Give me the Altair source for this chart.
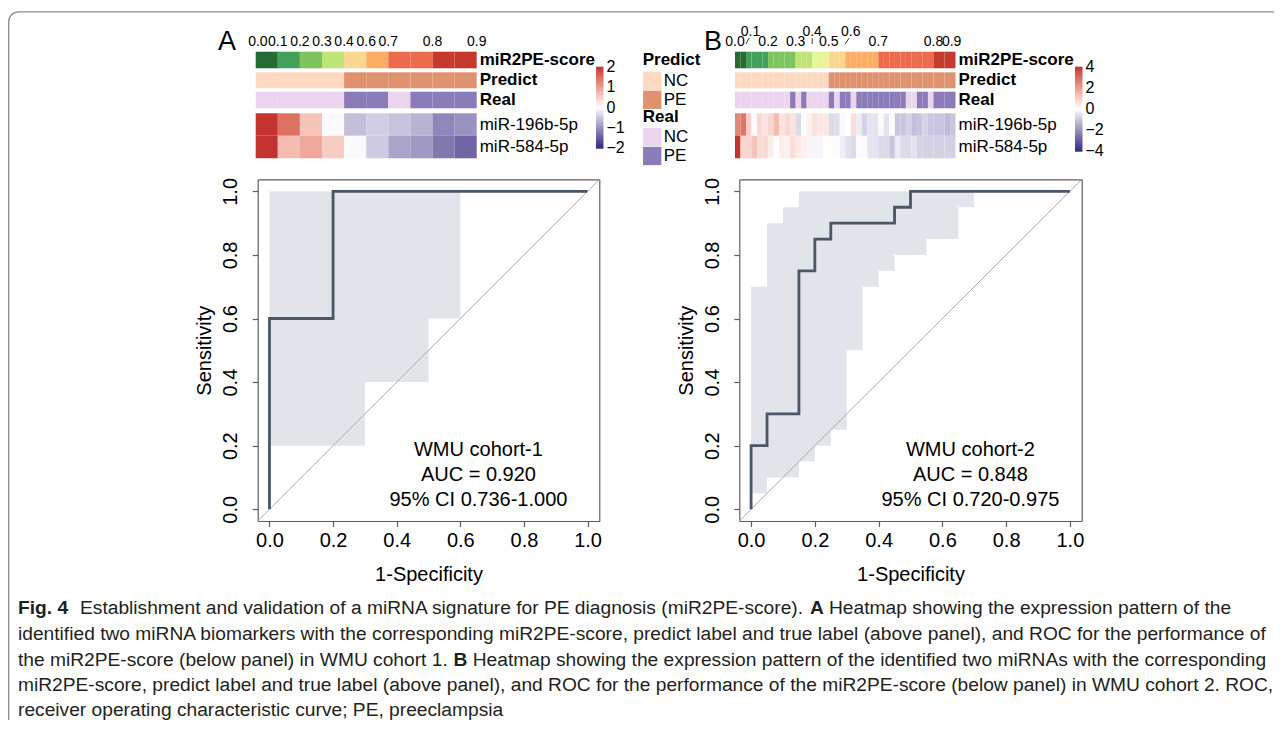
import altair as alt
import pandas as pd

FONT = "Liberation Sans, Arial, Helvetica, sans-serif"
CAP_FONT = "Liberation Sans, Arial, Helvetica, sans-serif"

W, H = 1266, 712

# ---------------- data ----------------
score_palette = ["#276b34", "#41a05a", "#7dc45e", "#bfe474", "#e6f59a",
                 "#fad690", "#fdae62", "#ee6a4c", "#c63a2e"]
predict_colors = ["#fdd9bf", "#e0916e"]
real_colors = ["#ecd4ee", "#8a7cb8"]
expr_colors = ["#2b2c7e", "#ffffff", "#c4332e"]
genes = ["miR-196b-5p", "miR-584-5p"]

# Panel A (WMU cohort-1)
A_bin = [0, 1, 2, 3, 5, 6, 7, 7, 8, 8]
A_predict = ["NC", "NC", "NC", "NC", "PE", "PE", "PE", "PE", "PE", "PE"]
A_real = ["NC", "NC", "NC", "NC", "PE", "PE", "NC", "PE", "PE", "PE"]
A_mir196b = [2.0, 1.45, 0.62, -0.05, -0.56, -0.43, -0.52, -0.67, -1.07, -0.96]
A_mir584 = [2.0, 0.70, 0.90, 0.54, -0.05, -0.45, -0.81, -0.90, -1.21, -1.40]
A_tick_at = [0, 1, 2, 3, 4, 5, 6, 8, 10]
A_tick_txt = ["0.0", "0.1", "0.2", "0.3", "0.4", "0.6", "0.7", "0.8", "0.9"]
A_tick_raised = [0, 0, 0, 0, 0, 0, 0, 0, 0]
A_tick_nudge = [0.1, 0, 0, 0, 0, 0, 0, 0, 0]
A_bar_labels = [-2, -1, 0, 1, 2]

A_roc_fpr = [0, 0, 0.2, 0.2, 1]
A_roc_tpr = [0, 0.6, 0.6, 1, 1]
A_ci_fpr = [0, 0.3, 0.5, 0.6]
A_ci_lo = [0.2, 0.4, 0.6, 0.6]
A_ci_hi = [1, 1, 1, 1]
A_annot = ["WMU cohort-1", "AUC = 0.920", "95% CI 0.736-1.000"]

# Panel B (WMU cohort-2)
B_bin = [0] * 2 + [1] * 4 + [2] * 5 + [3] * 3 + [4] * 3 + [5] * 3 + [6] * 6 + [7] * 10 + [8] * 4
B_predict = ["NC"] * 17 + ["PE"] * 23
B_real = (["NC"] * 10 + ["PE"] + ["NC"] + ["PE"] + ["NC"] * 4 + ["PE"] + ["NC"] + ["PE"] * 2
          + ["NC"] + ["PE"] * 9 + ["NC"] * 2 + ["PE"] * 2 + ["NC"] + ["PE"] * 4)
B_mir196b = [2.5, 2.8, 1.0, 0.1, 0.8, 0.55, 0.86, 1.4, 0.55, 0.8,
             0.6, -0.66, -0.05, 0.3, 0.63, 0.5, 0.5, -0.66, -0.6, -0.1,
             0.0, 0.67, -0.32, -0.78, -0.47, -0.47, -0.1, -0.47, -0.05, -1.0,
             -1.0, -0.78, -1.15, -1.0, -0.78, -1.0, -1.0, -1.0, -1.2, -1.0]
B_mir584 = [4.0, 0.86, 0.86, 1.23, 0.76, 0.76, 0.37, 0.0, 0.37, 0.3,
            0.72, 0.45, 0.3, -0.17, -0.17, -0.17, 0.05, 0.05, 0.05, -0.3,
            -0.53, -0.66, -0.05, -0.1, -0.47, -0.47, -0.66, -0.66, -1.0, -0.38,
            -0.66, -0.66, -0.47, -0.78, -0.8, -0.8, -0.8, -0.8, -0.8, -0.8]
B_tick_at = [0, 2, 6, 11, 14, 17, 20, 26, 36, 40]
B_tick_txt = ["0.0", "0.1", "0.2", "0.3", "0.4", "0.5", "0.6", "0.7", "0.8", "0.9"]
B_tick_raised = [0, 1, 0, 0, 1, 0, 1, 0, 0, 0]
B_tick_nudge = [0, 0.8, 0, 0, 0, 0, 1.0, 0, 0, -0.7]
B_bar_labels = [-4, -2, 0, 2, 4]

B_roc_fpr = [0, 0, 0.05, 0.05, 0.15, 0.15, 0.2, 0.2, 0.25, 0.25, 0.45, 0.45, 0.5, 0.5, 1]
B_roc_tpr = [0, 0.2, 0.2, 0.3, 0.3, 0.75, 0.75, 0.85, 0.85, 0.9, 0.9, 0.95, 0.95, 1, 1]
B_ci_fpr = [0, 0.05, 0.1, 0.15, 0.2, 0.25, 0.3, 0.35, 0.4, 0.45, 0.55, 0.65, 0.7]
B_ci_lo = [0.05, 0.1, 0.1, 0.15, 0.2, 0.25, 0.5, 0.7, 0.75, 0.8, 0.85, 0.95, 0.95]
B_ci_hi = [0.7, 0.9, 0.95, 1, 1, 1, 1, 1, 1, 1, 1, 1, 1]
B_annot = ["WMU cohort-2", "AUC = 0.848", "95% CI 0.720-0.975"]

roc_ticks = [0.0, 0.2, 0.4, 0.6, 0.8, 1.0]

caption = [
    [("Fig. 4", "bold", 18), ("Establishment and validation of a miRNA signature for PE diagnosis (miR2PE-score).", "normal", 80),
     ("A", "bold", 810), ("Heatmap showing the expression pattern of the", "normal", 829)],
    [("identified two miRNA biomarkers with the corresponding miR2PE-score, predict label and true label (above panel), and ROC for the performance of", "normal", 18)],
    [("the miR2PE-score (below panel) in WMU cohort 1.", "normal", 18), ("B", "bold", 453.5),
     ("Heatmap showing the expression pattern of the identified two miRNAs with the corresponding", "normal", 472.7)],
    [("miR2PE-score, predict label and true label (above panel), and ROC for the performance of the miR2PE-score (below panel) in WMU cohort 2. ROC,", "normal", 18)],
    [("receiver operating characteristic curve; PE, preeclampsia", "normal", 18)],
]
caption_baselines = [614, 640, 665.5, 691, 716]

# ---------------- layout (canvas pixels) ----------------
ROW_Y = {"score": (43.7, 60.3), "predict": (64.3, 80.3), "real": (83.7, 100.3), "expr": (105.3, 150.3)}
LVL_RANGE = [33.5, 23.7]
ROC_Y = [513, 171.3]
ROC_DOM_X = [-0.037, 1.037]
ROC_DOM_Y = [-0.037, 1.038]
AX_COL = "#5f5f5f"


def heat_panel(x_rng, bins, predict, real, m196, m584, t_at, t_txt, t_raised, t_nudge,
               lim, bar_labels, grad_x, grad_len, with_legend):
    n = len(bins)
    xs = alt.Scale(domain=[0, n], range=list(x_rng), nice=False, zero=False)
    idx = list(range(n))
    out = []

    def row(df, names, yr, color, bold):
        ys = alt.Scale(domain=names, range=list(yr), paddingInner=0, paddingOuter=0)
        rect = alt.Chart(df).mark_rect().encode(
            x=alt.X("i:Q", scale=xs, axis=None), x2="j:Q",
            y=alt.Y("row:N", scale=ys, axis=None), color=color)
        lab = alt.Chart(pd.DataFrame({"x": [n] * len(names), "row": names})).mark_text(
            align="left", baseline="middle", dx=3, font=FONT, fontSize=17,
            fontWeight="bold" if bold else "normal", color="black").encode(
            x=alt.X("x:Q", scale=xs, axis=None), y=alt.Y("row:N", scale=ys, axis=None), text="row:N")
        return alt.layer(rect, lab)

    base = pd.DataFrame({"i": idx, "j": [k + 1 for k in idx]})

    d = base.copy(); d["row"] = "miR2PE-score"; d["v"] = bins
    out.append(row(d, ["miR2PE-score"], ROW_Y["score"],
                   alt.Color("v:N", scale=alt.Scale(domain=list(range(len(score_palette))), range=score_palette),
                             legend=None), True))

    def cat_legend(title, ly):
        if not with_legend:
            return None
        return alt.Legend(title=title, orient="none", legendX=634.7, legendY=ly, direction="vertical",
                          symbolType="square", symbolSize=335, symbolStrokeWidth=0, symbolOpacity=1,
                          rowPadding=0, padding=0, titleFont=FONT, titleFontSize=17, titleFontWeight="bold",
                          titleColor="black", titlePadding=2, titleAnchor="start", labelFont=FONT,
                          labelFontSize=17, labelColor="black", labelOffset=2)

    d = base.copy(); d["row"] = "Predict"; d["v"] = predict
    out.append(row(d, ["Predict"], ROW_Y["predict"],
                   alt.Color("v:N", scale=alt.Scale(domain=["NC", "PE"], range=predict_colors),
                             legend=cat_legend("Predict", 44.3)), True))

    d = base.copy(); d["row"] = "Real"; d["v"] = real
    out.append(row(d, ["Real"], ROW_Y["real"],
                   alt.Color("v:N", scale=alt.Scale(domain=["NC", "PE"], range=real_colors),
                             legend=cat_legend("Real", 100.5)), True))

    recs = []
    for g, vals in zip(genes, [m196, m584]):
        for k, v in enumerate(vals):
            recs.append({"i": k, "j": k + 1, "row": g, "v": v})
    # labels at the bar ends are set a hair inside so they stay centred on the ends
    lab_vals = [v * 0.995 for v in bar_labels]
    grad = alt.Legend(orient="none", legendX=grad_x, legendY=58.7, direction="vertical", title=None,
                      gradientLength=grad_len, gradientThickness=7.5, gradientStrokeWidth=0,
                      values=lab_vals, labelExpr="format(round(datum.value), 'd')",
                      labelFont=FONT, labelFontSize=16, labelColor="black",
                      labelOffset=3, labelOverlap=False, padding=0)
    out.append(row(pd.DataFrame(recs), genes, ROW_Y["expr"],
                   alt.Color("v:Q", scale=alt.Scale(domain=[-lim, 0, lim], range=expr_colors,
                                                    interpolate="lab", clamp=True), legend=grad), False))

    tdf = pd.DataFrame({"at": t_at, "txt": t_txt, "lvl": t_raised, "nudge": t_nudge})
    tdf["pos"] = tdf["at"] + tdf["nudge"]
    lv = alt.Scale(domain=[0, 1], range=LVL_RANGE, nice=False, zero=False)
    ttext = alt.Chart(tdf).mark_text(font=FONT, fontSize=14, baseline="middle", color="black").encode(
        x=alt.X("pos:Q", scale=xs, axis=None), y=alt.Y("lvl:Q", scale=lv, axis=None), text="txt:N")
    conn = tdf[tdf["lvl"] == 1].copy()
    if len(conn):
        conn["top"] = conn["at"] + conn["nudge"] * 0.7
        conn["y0"] = -0.25
        conn["y1"] = 0.35
        crule = alt.Chart(conn).mark_rule(color="black", strokeWidth=0.8).encode(
            x=alt.X("at:Q", scale=xs, axis=None), x2="top:Q",
            y=alt.Y("y0:Q", scale=lv, axis=None), y2="y1:Q")
        out.append(alt.layer(ttext, crule))
    else:
        out.append(ttext)
    return out


def roc_panel(x_rng, fpr, tpr, ci_x, ci_lo, ci_hi, annot, annot_x):
    xs = alt.Scale(domain=ROC_DOM_X, range=list(x_rng), nice=False, zero=False)
    ys = alt.Scale(domain=ROC_DOM_Y, range=ROC_Y, nice=False, zero=False)
    common = dict(domainColor=AX_COL, domainWidth=1.2, tickColor=AX_COL, tickWidth=1.2, tickSize=5.5,
                  grid=False, labelFont=FONT, labelFontSize=20, labelColor="black",
                  titleFont=FONT, titleFontSize=20, titleFontWeight="normal", titleColor="black",
                  labelFlush=False, labelOverlap=False, labelBound=False, values=roc_ticks, format=".1f")
    bottom = alt.Axis(orient="bottom", offset=ROC_Y[0] - H, title="1-Specificity",
                      labelPadding=4, titlePadding=14, **common)
    left = alt.Axis(orient="left", offset=-x_rng[0], title="Sensitivity", labelAngle=270,
                    labelAlign="center", labelBaseline="alphabetic", labelPadding=15.6,
                    titlePadding=6, **common)
    top = alt.Axis(orient="top", offset=-ROC_Y[1], labels=False, ticks=False, title=None, grid=False,
                   domainColor=AX_COL, domainWidth=1.2)
    right = alt.Axis(orient="right", offset=x_rng[1] - W, labels=False, ticks=False, title=None, grid=False,
                     domainColor=AX_COL, domainWidth=1.2)

    band = alt.Chart(pd.DataFrame({"x": ci_x, "lo": ci_lo, "hi": ci_hi})).mark_area(
        interpolate="step-after", color="#e1e4e8", opacity=1).encode(
        x=alt.X("x:Q", scale=xs, axis=bottom), y=alt.Y("lo:Q", scale=ys, axis=left), y2="hi:Q")
    diag = alt.Chart(pd.DataFrame({"x": ROC_DOM_X, "y": ROC_DOM_X})).mark_line(
        color="#aaaaaa", strokeWidth=1).encode(
        x=alt.X("x:Q", scale=xs, axis=top), y=alt.Y("y:Q", scale=ys, axis=right))
    line = alt.Chart(pd.DataFrame({"x": fpr, "y": tpr, "k": list(range(len(fpr)))})).mark_line(
        color="#4a5766", strokeWidth=2.8).encode(
        x=alt.X("x:Q", scale=xs, axis=None), y=alt.Y("y:Q", scale=ys, axis=None), order="k:Q")
    txt = alt.Chart(pd.DataFrame({"a": [0]})).mark_text(
        font=FONT, fontSize=20, lineHeight=25, align="center", baseline="middle", color="black").encode(
        x=alt.X(datum=annot_x, scale=xs, axis=None), y=alt.Y(datum=0.186, scale=ys, axis=None),
        text=alt.value(annot))
    return alt.layer(band, diag, line, txt).resolve_axis(x="independent", y="independent")


layers = []

frame = alt.Chart(pd.DataFrame({"a": [0]})).mark_rect(
    fillOpacity=0, stroke="#8a8a8a", strokeWidth=1.3, cornerRadius=10).encode(
    x=alt.value(0.7), x2=alt.value(W + 40), y=alt.value(3.8), y2=alt.value(H + 40))
layers.append(frame)

layers += heat_panel((247.7, 468.7), A_bin, A_predict, A_real, A_mir196b, A_mir584,
                     A_tick_at, A_tick_txt, A_tick_raised, A_tick_nudge,
                     2, A_bar_labels, 588, 82, True)
layers += heat_panel((727, 947.5), B_bin, B_predict, B_real, B_mir196b, B_mir584,
                     B_tick_at, B_tick_txt, B_tick_raised, B_tick_nudge,
                     4, B_bar_labels, 1067, 85, False)
layers.append(roc_panel((249.7, 591.3), A_roc_fpr, A_roc_tpr, A_ci_fpr, A_ci_lo, A_ci_hi, A_annot, 0.657))
layers.append(roc_panel((731.3, 1073.7), B_roc_fpr, B_roc_tpr, B_ci_fpr, B_ci_lo, B_ci_hi, B_annot, 0.688))

for letter, lx in [("A", 210), ("B", 696)]:
    layers.append(alt.Chart(pd.DataFrame({"a": [0]})).mark_text(
        font=FONT, fontSize=27, align="left", baseline="alphabetic", color="black").encode(
        x=alt.value(lx), y=alt.value(42), text=alt.value(letter)))

for segs, yb in zip(caption, caption_baselines):
    for txt, wt, px in segs:
        layers.append(alt.Chart(pd.DataFrame({"a": [0]})).mark_text(
            font=CAP_FONT, fontSize=19.2, fontWeight=wt, align="left", baseline="alphabetic",
            color="#231f20").encode(x=alt.value(px - 8), y=alt.value(yb - 8), text=alt.value(txt)))

chart = alt.layer(*layers).resolve_scale(
    x="independent", y="independent", color="independent"
).properties(
    width=W, height=H, autosize=alt.AutoSizeParams(type="none"),
    padding={"left": 0, "right": 0, "top": 0, "bottom": 0}
).configure_view(stroke=None)

chart.save("out.html", embed_options={"renderer": "svg", "actions": False})
